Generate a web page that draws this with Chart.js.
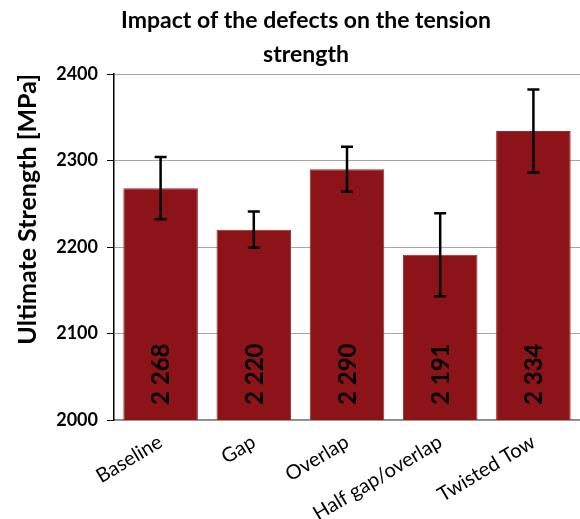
<!DOCTYPE html>
<html>
<head>
<meta charset="utf-8">
<script src="https://cdn.jsdelivr.net/npm/chart.js@4.4.1/dist/chart.umd.min.js"></script>
<style>
  html, body { margin: 0; padding: 0; background: #fff; }
  #wrap { width: 580px; height: 519px; position: relative; }
</style>
</head>
<body>
<div id="wrap"><canvas id="strengthChart"></canvas></div>
<script>
const categories = ['Baseline', 'Gap', 'Overlap', 'Half gap/overlap', 'Twisted Tow'];
const strength = [2268, 2220, 2290, 2191, 2334];
const strengthError = [36, 21, 26, 48, 48];
const yTicks = [2000, 2100, 2200, 2300, 2400];

const FONT = 'Lato, "Open Sans", sans-serif';

// thousands with a space, like "2 268"
const fmt = (v) => String(v).replace(/\B(?=(\d{3})+(?!\d))/g, ' ');

const errorBars = {
    id: 'errorBars',
    afterDatasetsDraw(chart) {
        const {ctx, scales: {y}} = chart;
        const meta = chart.getDatasetMeta(0);
        ctx.save();
        ctx.strokeStyle = '#000';
        ctx.lineWidth = 2.5;
        meta.data.forEach((bar, i) => {
            const top = y.getPixelForValue(strength[i] + strengthError[i]);
            const bot = y.getPixelForValue(strength[i] - strengthError[i]);
            const cap = 6;
            ctx.beginPath();
            ctx.moveTo(bar.x, top); ctx.lineTo(bar.x, bot);
            ctx.moveTo(bar.x - cap, top); ctx.lineTo(bar.x + cap, top);
            ctx.moveTo(bar.x - cap, bot); ctx.lineTo(bar.x + cap, bot);
            ctx.stroke();
        });
        ctx.restore();
    }
};

const barLabels = {
    id: 'barLabels',
    afterDatasetsDraw(chart) {
        const {ctx, scales: {y}} = chart;
        const meta = chart.getDatasetMeta(0);
        const base = y.getPixelForValue(yTicks[0]) - 15;
        ctx.save();
        ctx.fillStyle = '#000';
        ctx.font = 'bold 24px ' + FONT;
        ctx.textAlign = 'left';
        ctx.textBaseline = 'middle';
        meta.data.forEach((bar, i) => {
            ctx.save();
            ctx.translate(bar.x + 1, base);
            ctx.rotate(-Math.PI / 2);
            ctx.fillText(fmt(strength[i]), 0, 0);
            ctx.restore();
        });
        ctx.restore();
    }
};

// left padding moves the title centre right; the y box shrinks so the plot keeps its place
const PAD_LEFT = 32;

new Chart(document.getElementById('strengthChart'), {
    type: 'bar',
    data: {
        labels: categories,
        datasets: [{
            label: 'Ultimate Strength',
            data: strength,
            backgroundColor: '#8c1317',
            borderColor: '#9a2a2e',
            borderWidth: 1,
            categoryPercentage: 0.8,
            barPercentage: 1
        }]
    },
    options: {
        responsive: true,
        maintainAspectRatio: false,
        animation: false,
        layout: { padding: { left: PAD_LEFT } },
        plugins: {
            legend: { display: false },
            tooltip: { enabled: false },
            title: {
                display: true,
                text: ['Impact of the defects on the tension', 'strength'],
                color: '#000',
                font: { family: FONT, size: 23, weight: 'bold', lineHeight: 1.5 },
                padding: { top: 3, bottom: 2 }
            }
        },
        scales: {
            x: {
                grid: { display: false },
                border: { color: '#8a8a8a', width: 1.5 },
                ticks: {
                    color: '#000',
                    font: { family: FONT, size: 20 },
                    minRotation: 31,
                    maxRotation: 31,
                    padding: 2
                },
                afterFit(scale) { scale.height = 99; }
            },
            y: {
                min: yTicks[0],
                max: yTicks[yTicks.length - 1],
                afterBuildTicks(scale) { scale.ticks = yTicks.map(v => ({ value: v })); },
                grid: { color: '#a6a6a6', lineWidth: 1, tickColor: '#000', tickLength: 7 },
                border: { color: '#000', width: 1.5 },
                ticks: {
                    color: '#000',
                    font: { family: FONT, size: 18, weight: 'bold' },
                    padding: 9,
                    callback: (v) => String(v)
                },
                title: {
                    display: true,
                    text: 'Ultimate Strength [MPa]',
                    align: 'end',
                    color: '#000',
                    font: { family: FONT, size: 25, weight: 'bold', lineHeight: 1.2 },
                    padding: { top: 13 - PAD_LEFT }
                },
                afterFit(scale) { scale.width = 114 - PAD_LEFT; }
            }
        }
    },
    plugins: [errorBars, barLabels]
});
</script>
</body>
</html>
